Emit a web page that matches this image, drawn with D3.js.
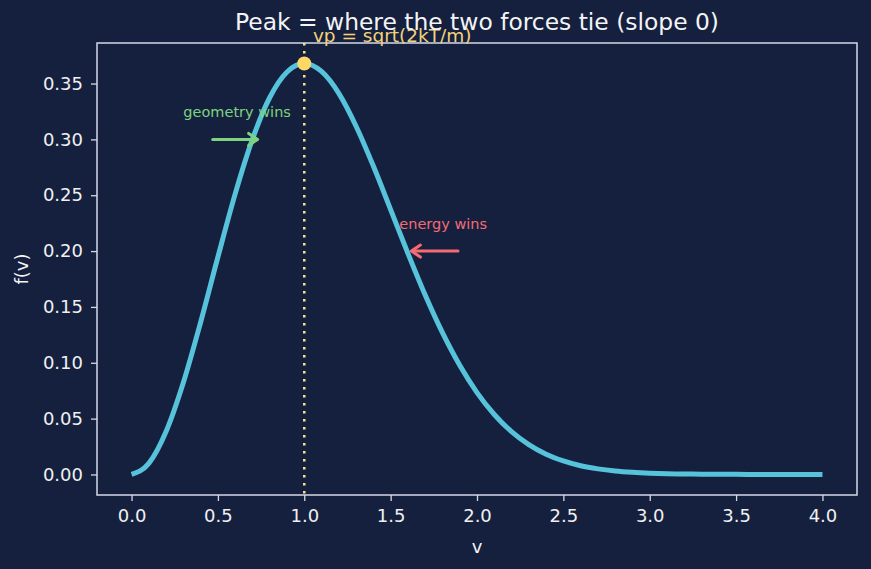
<!DOCTYPE html>
<html>
<head>
<meta charset="utf-8">
<script src="https://cdn.jsdelivr.net/npm/d3@7"></script>
<style>
  html, body { margin: 0; padding: 0; background: #15203f; }
  svg { display: block; font-family: "DejaVu Sans", sans-serif; }
  .axis line, .axis path { stroke: #d4d9e6; }
</style>
</head>
<body>
<div id="chart"></div>
<script>
const vValues = [0.0, 0.1, 0.2, 0.3, 0.4, 0.5, 0.6, 0.7, 0.8, 0.9, 1.0, 1.1, 1.2, 1.3, 1.4, 1.5, 1.6, 1.7, 1.8, 1.9, 2.0,
  2.1, 2.2, 2.3, 2.4, 2.5, 2.6, 2.7, 2.8, 2.9, 3.0, 3.1, 3.2, 3.3, 3.4, 3.5, 3.6, 3.7, 3.8, 3.9, 4.0];
const fValues = [0.0, 0.0099, 0.0384, 0.0823, 0.1363, 0.1947, 0.2512, 0.3002, 0.3375, 0.3604, 0.3679, 0.3608, 0.3412,
  0.3118, 0.2761, 0.2371, 0.1979, 0.1606, 0.1269, 0.0977, 0.0733, 0.0537, 0.0383, 0.0267, 0.0181, 0.0121, 0.0078,
  0.0050, 0.0031, 0.0019, 0.0011, 0.0006, 0.0004, 0.0002, 0.0001, 0.0001, 0.0, 0.0, 0.0, 0.0, 0.0];

const xTicks = [0, 0.5, 1, 1.5, 2, 2.5, 3, 3.5, 4];
const yTicks = [0, 0.05, 0.1, 0.15, 0.2, 0.25, 0.3, 0.35];

const peak = { v: 1.0, f: 0.3679 };
const peakLabel = { v: 1.05, f: 0.387, text: 'vp = sqrt(2kT/m)' };
// annotations: text anchor + arrow (from -> to) in data units
const notes = [
  { text: 'geometry wins', tv: 0.3, tf: 0.32, from: [0.47, 0.30], to: [0.73, 0.30], color: '#7dd37f' },
  { text: 'energy wins', tv: 1.55, tf: 0.22, from: [1.89, 0.20], to: [1.62, 0.20], color: '#f56b73' },
];

const W = 871, H = 569;
const margin = { top: 43, right: 14, bottom: 74, left: 97 };
const innerW = W - margin.left - margin.right;
const innerH = H - margin.top - margin.bottom;
const FONT = '"DejaVu Sans", sans-serif';

const svg = d3.select('#chart').append('svg').attr('width', W).attr('height', H);
svg.append('rect').attr('width', W).attr('height', H).attr('fill', '#15203f');
const g = svg.append('g').attr('transform', `translate(${margin.left},${margin.top})`);

// matplotlib-style 5% padding around the data
const x = d3.scaleLinear().domain([-0.2, 4.2]).range([0, innerW]);
const yMax = d3.max(fValues);
const y = d3.scaleLinear().domain([-0.05 * yMax, 1.05 * yMax]).range([innerH, 0]);

function styleAxis(a) {
  a.select('.domain').remove();
  a.attr('font-family', FONT).attr('font-size', 18);
  a.selectAll('text').attr('fill', '#f0f0f0');
  a.selectAll('line').attr('stroke-width', 1.3);
}

g.append('g').attr('class', 'axis').attr('transform', `translate(0,${innerH})`)
  .call(d3.axisBottom(x).tickValues(xTicks).tickFormat(d3.format('.1f')).tickSize(6).tickPadding(8))
  .call(styleAxis);
g.append('g').attr('class', 'axis')
  .call(d3.axisLeft(y).tickValues(yTicks).tickFormat(d3.format('.2f')).tickSize(6).tickPadding(8))
  .call(styleAxis);

// frame
g.append('rect').attr('width', innerW).attr('height', innerH)
  .attr('fill', 'none').attr('stroke', '#d4d9e6').attr('stroke-width', 1.5);

// peak marker line
g.append('line')
  .attr('x1', x(peak.v)).attr('x2', x(peak.v)).attr('y1', 0).attr('y2', innerH)
  .attr('stroke', '#ffe08a').attr('stroke-width', 2.5).attr('stroke-dasharray', '2.5,5.5');

const pts = vValues.map((v, i) => [v, fValues[i]]);
g.append('path').datum(pts)
  .attr('fill', 'none').attr('stroke', '#56c3da').attr('stroke-width', 5).attr('stroke-linecap', 'butt')
  .attr('d', d3.line().x((d) => x(d[0])).y((d) => y(d[1])).curve(d3.curveMonotoneX));

g.append('circle').attr('cx', x(peak.v)).attr('cy', y(peak.f)).attr('r', 7).attr('fill', '#ffd766');

g.append('text').attr('x', x(peakLabel.v)).attr('y', y(peakLabel.f))
  .attr('fill', '#f2d27a').attr('font-size', 18.5).text(peakLabel.text);

notes.forEach((n) => {
  g.append('text').attr('x', x(n.tv)).attr('y', y(n.tf))
    .attr('fill', n.color).attr('font-size', 14.5).text(n.text);
  const x1 = x(n.from[0]), x2 = x(n.to[0]), yy = y(n.to[1]);
  const dir = Math.sign(x2 - x1);
  g.append('line').attr('x1', x1).attr('x2', x2 - dir * 1).attr('y1', yy).attr('y2', yy)
    .attr('stroke', n.color).attr('stroke-width', 3).attr('stroke-linecap', 'round');
  g.append('path')
    .attr('d', `M${x2 - dir * 9},${yy - 6} L${x2},${yy} L${x2 - dir * 9},${yy + 6}`)
    .attr('fill', 'none').attr('stroke', n.color).attr('stroke-width', 3)
    .attr('stroke-linecap', 'round').attr('stroke-linejoin', 'round');
});

// title and axis labels
svg.append('text').attr('x', margin.left + innerW / 2).attr('y', 30).attr('text-anchor', 'middle')
  .attr('fill', '#f4f4f4').attr('font-size', 23.4).text('Peak = where the two forces tie (slope 0)');
svg.append('text').attr('x', margin.left + innerW / 2).attr('y', 553).attr('text-anchor', 'middle')
  .attr('fill', '#f4f4f4').attr('font-size', 18).text('v');
svg.append('text').attr('transform', `translate(28,${margin.top + innerH / 2}) rotate(-90)`)
  .attr('text-anchor', 'middle').attr('fill', '#f4f4f4').attr('font-size', 18).text('f(v)');
</script>
</body>
</html>
